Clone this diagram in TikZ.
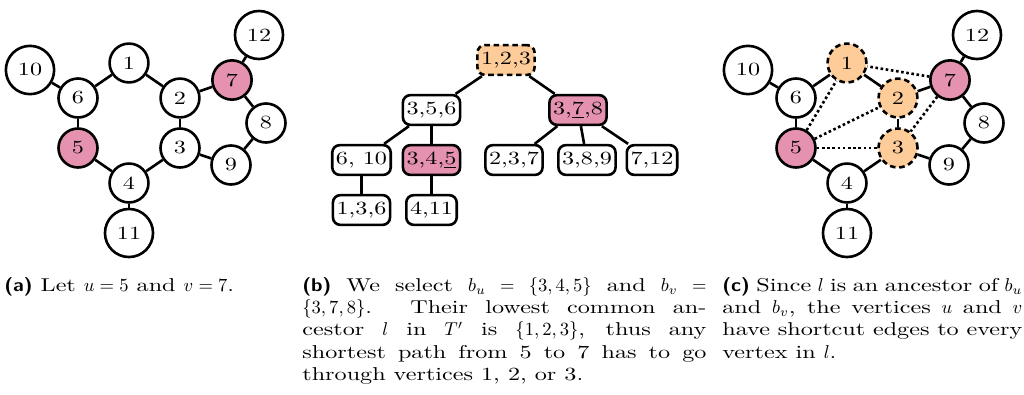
\documentclass[tikz,border=0pt]{standalone}
\usepackage{amsmath}
\usepackage{fontspec}
\setmainfont{lmroman10-regular.otf}[FakeStretch=1.3, BoldFont=lmroman10-bold.otf, ItalicFont=lmroman10-italic.otf]
\setsansfont{lmsans10-regular.otf}[FakeStretch=1.1, BoldFont=lmsans10-bold.otf]

\definecolor{uvpink}{RGB}{229,145,176}
\definecolor{lcaorange}{RGB}{254,204,153}

\begin{document}
\begin{tikzpicture}[
    x=0.538pt, y=-0.538pt,
    vtx/.style={draw, circle, line width=1.4pt, inner sep=4.1pt, fill=white},
    bag/.style={draw, rounded corners=4pt, line width=1.4pt, inner xsep=2pt, inner ysep=0pt, minimum height=16pt, fill=white},
    endpt/.style={fill=uvpink},
    lca/.style={fill=lcaorange, dash pattern=on 3pt off 2pt},
    lnk/.style={line width=1.4pt},
    shortcut/.style={line width=1.4pt, dash pattern=on 1.4pt off 1.4pt},
    capt/.style={anchor=north west, inner sep=0pt, align=justify}
]
\useasboundingbox (0,0) rectangle (1024,394);

% (a) the graph
\node[vtx] (a1) at (129,63) {1};
\node[vtx] (a2) at (180,98) {2};
\node[vtx] (a3) at (180,148) {3};
\node[vtx] (a4) at (129,183) {4};
\node[vtx, endpt] (a5) at (78,148) {5};
\node[vtx] (a6) at (78,98) {6};
\node[vtx, endpt] (a7) at (232,80) {7};
\node[vtx] (a8) at (266,123) {8};
\node[vtx] (a9) at (231,165) {9};
\node[vtx] (a10) at (30,70) {10};
\node[vtx] (a11) at (129,233) {11};
\node[vtx] (a12) at (259,35) {12};

\draw[lnk] (a10) -- (a6);
\draw[lnk] (a6) -- (a1);
\draw[lnk] (a1) -- (a2);
\draw[lnk] (a2) -- (a7);
\draw[lnk] (a7) -- (a12);
\draw[lnk] (a7) -- (a8);
\draw[lnk] (a8) -- (a9);
\draw[lnk] (a9) -- (a3);
\draw[lnk] (a3) -- (a2);
\draw[lnk] (a3) -- (a4);
\draw[lnk] (a4) -- (a5);
\draw[lnk] (a5) -- (a6);
\draw[lnk] (a4) -- (a11);

% (b) the tree decomposition T'
\node[bag, lca] (t123) at (506,60) {1,2,3};
\node[bag] (t356) at (431.5,110) {3,5,6};
\node[bag, endpt] (t378) at (578,110) {3,\underline{7},8};
\node[bag] (t610) at (361.5,160) {6, 10};
\node[bag, endpt] (t345) at (431.5,160) {3,4,\underline{5}};
\node[bag] (t237) at (514,160) {2,3,7};
\node[bag] (t389) at (587,160) {3,8,9};
\node[bag] (t712) at (652,160) {7,12};
\node[bag] (t136) at (361.5,210) {1,3,6};
\node[bag] (t411) at (431.5,210) {4,11};

\draw[lnk] (t123) -- (t356);
\draw[lnk] (t123) -- (t378);
\draw[lnk] (t356) -- (t610);
\draw[lnk] (t356) -- (t345);
\draw[lnk] (t610) -- (t136);
\draw[lnk] (t345) -- (t411);
\draw[lnk] (t378) -- (t237);
\draw[lnk] (t378) -- (t389);
\draw[lnk] (t378) -- (t712);

% (c) the graph with shortcut edges
\begin{scope}[shift={(718,0)}]
\node[vtx, lca] (c1) at (129,63) {1};
\node[vtx, lca] (c2) at (180,98) {2};
\node[vtx, lca] (c3) at (180,148) {3};
\node[vtx] (c4) at (129,183) {4};
\node[vtx, endpt] (c5) at (78,148) {5};
\node[vtx] (c6) at (78,98) {6};
\node[vtx, endpt] (c7) at (232,80) {7};
\node[vtx] (c8) at (266,123) {8};
\node[vtx] (c9) at (231,165) {9};
\node[vtx] (c10) at (30,70) {10};
\node[vtx] (c11) at (129,233) {11};
\node[vtx] (c12) at (259,35) {12};
\end{scope}

\draw[lnk] (c10) -- (c6);
\draw[lnk] (c6) -- (c1);
\draw[lnk] (c1) -- (c2);
\draw[lnk] (c2) -- (c7);
\draw[lnk] (c7) -- (c12);
\draw[lnk] (c7) -- (c8);
\draw[lnk] (c8) -- (c9);
\draw[lnk] (c9) -- (c3);
\draw[lnk] (c3) -- (c2);
\draw[lnk] (c3) -- (c4);
\draw[lnk] (c4) -- (c5);
\draw[lnk] (c5) -- (c6);
\draw[lnk] (c4) -- (c11);
\draw[shortcut] (c5) -- (c1);
\draw[shortcut] (c5) -- (c2);
\draw[shortcut] (c5) -- (c3);
\draw[shortcut] (c7) -- (c1);
\draw[shortcut] (c7) -- (c3);

% captions
\node[capt, text width=200pt] (capa) at (4,277) {\textsf{\textbf{(a)}} Let $u = 5$ and $v = 7$.};
\node[capt, text width=217.4pt] (capb) at (302,277) {\textsf{\textbf{(b)}} We select $b_u = \{3,4,5\}$ and $b_v =$\linebreak
  $\{3,7,8\}$. Their lowest common an-\linebreak
  cestor $l$ in $T'$ is $\{1,2,3\}$, thus any\linebreak
  shortest path from 5 to 7 has to go\linebreak
  through vertices 1, 2, or 3.};
\node[capt, text width=161.4pt] (capc) at (722,277) {\textsf{\textbf{(c)}} Since $l$ is an ancestor of $b_u$\linebreak
  and $b_v$, the vertices $u$ and $v$\linebreak
  have shortcut edges to every\linebreak
  vertex in $l$.};
\end{tikzpicture}
\end{document}
